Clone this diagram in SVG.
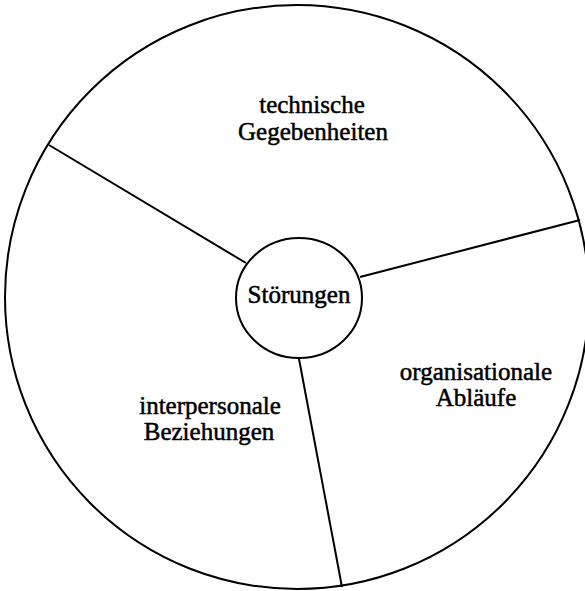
<svg xmlns="http://www.w3.org/2000/svg" width="585" height="591" viewBox="0 0 585 591">
<style>
.shape{fill:none;stroke:#000;stroke-width:2}
.conn{stroke:#000;stroke-width:2;fill:none}
text{font-family:"Liberation Serif","Times New Roman",serif;font-size:25px;fill:#000;stroke:#000;stroke-width:0.5;text-anchor:middle}
</style>
<rect width="585" height="591" fill="#fff"/>
<g id="outer"><circle class="shape" cx="297" cy="297" r="292"/></g>
<g id="connectors">
<line class="conn" x1="49" y1="145" x2="246" y2="263"/>
<line class="conn" x1="360" y1="277" x2="580" y2="220"/>
<line class="conn" x1="299" y1="359" x2="342" y2="587"/>
</g>
<g id="center"><ellipse class="shape" cx="299" cy="298" rx="63" ry="60"/><text x="299" y="303">Störungen</text></g>
<g id="technisch"><text x="312" y="113">technische</text><text x="313" y="140">Gegebenheiten</text></g>
<g id="organisation"><text x="476" y="380">organisationale</text><text x="476" y="406">Abläufe</text></g>
<g id="interpersonal"><text x="210" y="414">interpersonale</text><text x="209" y="440">Beziehungen</text></g>
</svg>
